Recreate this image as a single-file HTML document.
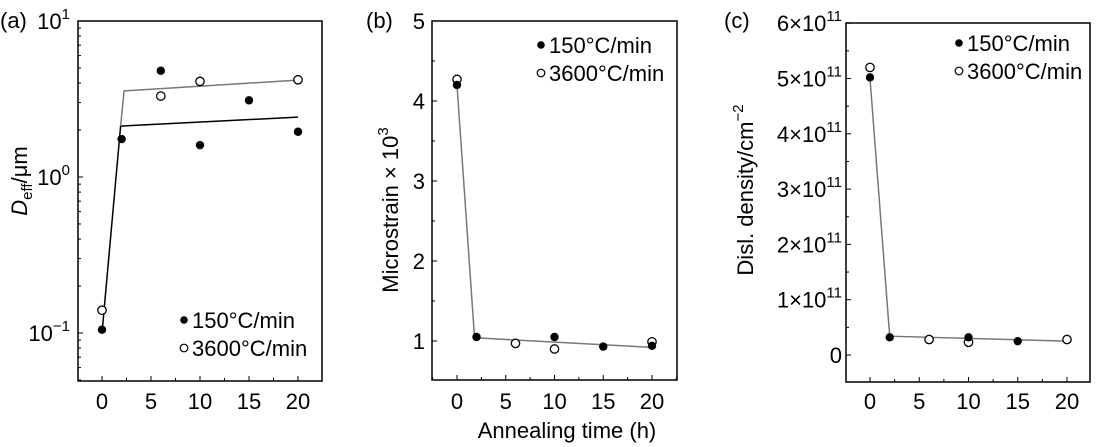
<!DOCTYPE html>
<html><head><meta charset="utf-8"><style>
body{margin:0;background:#fff;}
svg{display:block;font-family:"Liberation Sans",Arial,sans-serif;}
</style></head><body>
<svg id="chart" width="1098" height="447" viewBox="0 0 1098 447"></svg>
<script>
// ---- data ----
const timesA_filled=[0,2,6,10,15,20];
const valsA_filled=[0.105,1.75,4.8,1.6,3.1,1.95];
const timesA_open=[0,6,10,20];
const valsA_open=[0.14,3.3,4.1,4.2];
const fitA_black_t=[0,1.9,20];
const fitA_black_v=[0.1,2.12,2.42];
const fitA_gray_t=[1.9,2.25,20];
const fitA_gray_v=[2.12,3.56,4.18];

const timesB_filled=[0,2,10,15,20];
const valsB_filled=[4.2,1.05,1.05,0.93,0.94];
const timesB_open=[0,6,10,20];
const valsB_open=[4.27,0.97,0.9,0.99];
const fitB_t=[0,1.8,20];
const fitB_v=[4.2,1.04,0.92];

const timesC_filled=[0,2,10,15];
const valsC_filled=[5.02,0.32,0.32,0.25];
const timesC_open=[0,6,10,20];
const valsC_open=[5.2,0.28,0.23,0.28];
const fitC_t=[0,2,20];
const fitC_v=[5.0,0.34,0.25];

const xTicks=[0,5,10,15,20];
const yTicksB=[1,2,3,4,5];
const yTicksC=[0,1,2,3,4,5,6];

const NS="http://www.w3.org/2000/svg";
const svg=document.getElementById('chart');
const FS=22, SUP=15;
function el(tag,attrs,parent){const e=document.createElementNS(NS,tag);for(const k in attrs)e.setAttribute(k,attrs[k]);(parent||svg).appendChild(e);return e;}
function txt(s,attrs,parent){const t=el('text',attrs,parent);t.textContent=s;return t;}

function panel(cfg){
  const g=el('g',{});
  
  
  const xs=t=>cfg.x0+(t-cfg.tmin)*(cfg.x20-cfg.x0)/20;
  const ys=cfg.ys;
  const fr=el('rect',{x:cfg.L,y:cfg.T,width:cfg.R-cfg.L,height:cfg.B-cfg.T,fill:'none',stroke:'#000','stroke-width':1.5},g);
  
  
  for(let v=-2.5;v<=22.5;v+=2.5){const X=xs(v);if(X<=cfg.L||X>=cfg.R)continue;const maj=v%5===0;el('line',{x1:X,x2:X,y1:cfg.B,y2:cfg.B-(maj?5:3),stroke:'#000','stroke-width':1},g);}
  xTicks.forEach(v=>{const t=txt(String(v),{x:xs(v),y:409,'font-size':FS,'text-anchor':'middle'},g);
    
    });
  cfg.yaxis(g,ys);
  cfg.fits.forEach(f=>{const p=el('polyline',{points:f.t.map((t,i)=>xs(t)+','+ys(f.v[i])).join(' '),fill:'none',stroke:f.c,'stroke-width':1.5},g);
    
    });
  cfg.open.t.forEach((t,i)=>{const c=el('circle',{cx:xs(t),cy:ys(cfg.open.v[i]),r:4.2,fill:'#fff',stroke:'#000','stroke-width':1.3},g);
    
    });
  cfg.filled.t.forEach((t,i)=>{const c=el('circle',{cx:xs(t),cy:ys(cfg.filled.v[i]),r:4.2,fill:'#000'},g);
    
    });
  const lg=el('g',{},g);
  
  
  const [lx,ly]=cfg.leg;
  el('circle',{cx:lx,cy:ly,r:3.8,fill:'#000'},lg);
  txt('150°C/min',{x:lx+8,y:ly+8,'font-size':FS},lg);
  el('circle',{cx:lx,cy:ly+28,r:3.8,fill:'#fff',stroke:'#000','stroke-width':1.2},lg);
  txt('3600°C/min',{x:lx+8,y:ly+36,'font-size':FS},lg);
  const pl=txt(cfg.label,{x:cfg.labx,y:28,'font-size':FS},g);
  
  
}

panel({name:'panel-a',L:78,R:322,T:21,B:381,x0:102,x20:298,tmin:0,
  ys:v=>177-156*Math.log10(v),label:'(a)',labx:0,leg:[184,320],
  filled:{t:timesA_filled,v:valsA_filled},open:{t:timesA_open,v:valsA_open},
  fits:[{t:fitA_black_t,v:fitA_black_v,c:'#000',name:'fit-line-150'},{t:fitA_gray_t,v:fitA_gray_v,c:'#777',name:'fit-line-3600'}],
  yaxis:(g,ys)=>{
    for(let d=-2;d<=0;d++)for(let m=1;m<10;m++){const v=m*Math.pow(10,d);const Y=ys(v);if(Y<21||Y>381)continue;el('line',{x1:78,x2:78+(m===1?5:3),y1:Y,y2:Y,stroke:'#000'},g);}
    [[-1,'−1'],[0,'0'],[1,'1']].forEach(([e,s])=>{const Y=ys(Math.pow(10,e));const t=txt('',{x:70,y:Y+8,'font-size':FS,'text-anchor':'end'},g);
      
      
      const a=el('tspan',{},t);a.textContent='10';const b=el('tspan',{dy:-10,'font-size':SUP},t);b.textContent=s;});
    const t=txt('',{transform:'translate(27,181) rotate(-90)','font-size':FS,'text-anchor':'middle'},g);
    
    
    const a=el('tspan',{'font-style':'italic'},t);a.textContent='D';
    const b=el('tspan',{dy:5,'font-size':SUP},t);b.textContent='eff';
    const c=el('tspan',{dy:-5},t);c.textContent='/μm';
  }});

panel({name:'panel-b',L:432,R:677,T:21,B:380,x0:457,x20:652,tmin:0,
  ys:v=>341-(v-1)*80,label:'(b)',labx:366,leg:[541,45],
  filled:{t:timesB_filled,v:valsB_filled},open:{t:timesB_open,v:valsB_open},
  fits:[{t:fitB_t,v:fitB_v,c:'#777',name:'fit-line'}],
  yaxis:(g,ys)=>{
    for(let v=0.5;v<=5;v+=0.5){const Y=ys(v);if(Y<21||Y>380)continue;el('line',{x1:432,x2:432+(v%1===0?5:3),y1:Y,y2:Y,stroke:'#000'},g);}
    yTicksB.forEach(v=>{const t=txt(String(v),{x:425,y:ys(v)+8,'font-size':FS,'text-anchor':'end'},g);
      
      });
    const t=txt('',{transform:'translate(398,210) rotate(-90)','font-size':FS,'text-anchor':'middle'},g);
    
    
    const a=el('tspan',{},t);a.textContent='Microstrain × 10';
    const b=el('tspan',{dy:-10,'font-size':SUP},t);b.textContent='3';
    const x=txt('Annealing time (h)',{x:567,y:438,'font-size':FS,'text-anchor':'middle'});
    
    
  }});

panel({name:'panel-c',L:846,R:1090,T:23,B:382,x0:870,x20:1067,tmin:0,
  ys:v=>355-v*55.3,label:'(c)',labx:724,leg:[959,43],
  filled:{t:timesC_filled,v:valsC_filled},open:{t:timesC_open,v:valsC_open},
  fits:[{t:fitC_t,v:fitC_v,c:'#777',name:'fit-line'}],
  yaxis:(g,ys)=>{
    for(let v=-0.5;v<=6;v+=0.5){const Y=ys(v);if(Y<23||Y>382)continue;el('line',{x1:846,x2:846+(v%1===0?5:3),y1:Y,y2:Y,stroke:'#000'},g);}
    yTicksC.forEach(v=>{const t=txt('',{x:842,y:ys(v)+8,'font-size':FS,'text-anchor':'end'},g);
      
      
      if(v===0){t.textContent='0';return;}
      const a=el('tspan',{},t);a.textContent=v+'×10';const b=el('tspan',{dy:-10,'font-size':SUP},t);b.textContent='11';});
    const t=txt('',{transform:'translate(753,190) rotate(-90)','font-size':FS,'text-anchor':'middle'},g);
    
    
    const a=el('tspan',{},t);a.textContent='Disl. density/cm';
    const b=el('tspan',{dy:-10,'font-size':SUP},t);b.textContent='−2';
  }});
</script>
</body></html>
